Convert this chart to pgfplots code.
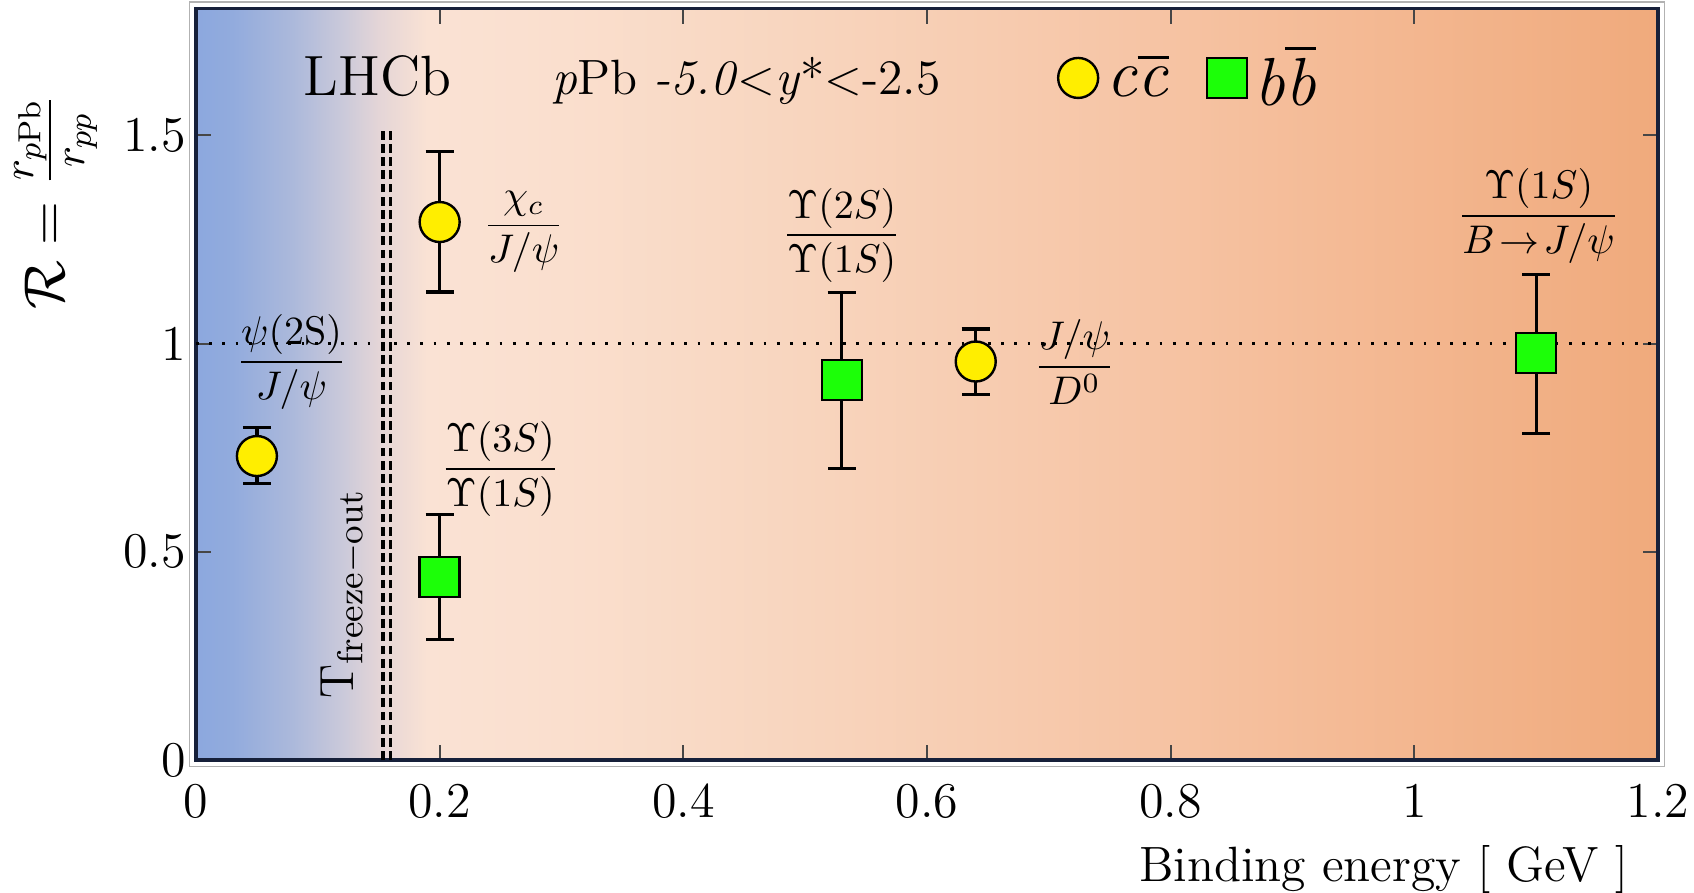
\documentclass[border=0pt]{standalone}
\usepackage{amsmath}
\usepackage{pgfplots}
\pgfplotsset{compat=1.18}

\definecolor{bgA}{RGB}{140,168,222}
\definecolor{bgB}{RGB}{146,171,221}
\definecolor{bgC}{RGB}{172,185,219}
\definecolor{bgD}{RGB}{202,201,218}
\definecolor{bgE}{RGB}{228,213,215}
\definecolor{bgF}{RGB}{250,226,212}
\definecolor{bgG}{RGB}{250,223,206}
\definecolor{bgH}{RGB}{248,213,190}
\definecolor{bgI}{RGB}{246,195,163}
\definecolor{bgJ}{RGB}{240,170,124}
\definecolor{cyel}{RGB}{255,238,0}
\definecolor{cgrn}{RGB}{28,255,8}
\definecolor{frame}{RGB}{22,32,58}

\pgfdeclarehorizontalshading{bgshade}{100bp}{color(0bp)=(bgA); color(25bp)=(bgA); color(26.25bp)=(bgB); color(28.33bp)=(bgC); color(30bp)=(bgD); color(31.25bp)=(bgE); color(32.9bp)=(bgF); color(37.5bp)=(bgG); color(45.8bp)=(bgH); color(58.3bp)=(bgI); color(75bp)=(bgJ); color(100bp)=(bgJ)}

\pgfplotsset{mymarkleg/.style={legend image code/.code={\draw[mark repeat=2,mark phase=2,##1] plot coordinates {(0cm,0cm)(0.19cm,0cm)(0.38cm,0cm)};}}}

\pgfplotstableread{
x     y     ep    em
0.05  0.730 0.068 0.065
0.20  1.292 0.170 0.168
0.64  0.957 0.078 0.080
}\ccbar

\pgfplotstableread{
x     y     ep    em
0.20  0.440 0.150 0.150
0.53  0.912 0.210 0.212
1.10  0.977 0.189 0.192
}\bbbar

\begin{document}
\begin{tikzpicture}
\begin{axis}[
  name=ax,
  scale only axis,
  width=365.5pt, height=187.9pt,
  xmin=0, xmax=1.2, ymin=0, ymax=1.805,
  xtick={0,0.2,0.4,0.6,0.8,1,1.2},
  xticklabels={0,0.2,0.4,0.6,0.8,1,1.2},
  ytick={0,0.5,1,1.5},
  yticklabels={0,0.5,1,1.5},
  tick align=inside,
  major tick length=3.8pt,
  tick style={gray!55!black, line width=0.5pt},
  axis line style={line width=0.9pt, frame},
  axis background/.style={shading=bgshade},
  ticklabel style={font=\fontsize{12.5}{14}\selectfont},
  xticklabel style={yshift=-2.5pt},
  yticklabel style={xshift=1pt},
  xlabel={Binding energy $[$ GeV $]$},
  xlabel style={font=\fontsize{12.4}{14}\selectfont, at={(axis description cs:1,0)}, anchor=base east, yshift=-30.3pt, xshift=-4pt},
  ylabel={$\mathcal{R} = \frac{r_{p\mathrm{Pb}}}{r_{pp}}$},
  ylabel style={font=\fontsize{15.5}{18}\selectfont, at={(axis description cs:-0.096,0.742)}, anchor=center},
  clip=false,
  legend style={at={(axis cs:0.707,1.638)}, anchor=west, draw=none, fill=none,
    legend columns=2, inner xsep=0pt, font=\fontsize{17}{19}\selectfont,
    /tikz/every even column/.append style={column sep=7.5pt}},
  legend cell align=left,
]
% reference lines
\addplot[black, line width=0.6pt, dash pattern=on 0.7pt off 2.6pt, forget plot] coordinates {(0,1) (1.2,1)};
\addplot[black, line width=0.9pt, dash pattern=on 2.2pt off 1.1pt, forget plot] coordinates {(0.1535,0) (0.1535,1.51)};
\addplot[black, line width=0.9pt, dash pattern=on 2.2pt off 1.1pt, forget plot] coordinates {(0.1595,0) (0.1595,1.51)};

% data
\addplot[only marks, mark=*, mark size=5pt, mark options={fill=cyel, draw=black, line width=0.6pt}, forget plot,
  error bars/.cd, y dir=both, y explicit,
  error bar style={line width=0.8pt, black},
  error mark options={line width=0.8pt, mark size=3.5pt, black, rotate=90}]
  table[x=x, y=y, y error plus=ep, y error minus=em] {\ccbar};
\addplot[only marks, mark=square*, mark size=5pt, mark options={fill=cgrn, draw=black, line width=0.6pt}, forget plot,
  error bars/.cd, y dir=both, y explicit,
  error bar style={line width=0.8pt, black},
  error mark options={line width=0.8pt, mark size=3.5pt, black, rotate=90}]
  table[x=x, y=y, y error plus=ep, y error minus=em] {\bbbar};

% legend
\addlegendimage{only marks, mymarkleg, mark=*, mark size=5pt, mark options={fill=cyel, draw=black, line width=0.6pt}}
\addlegendentry{\textit{c}$\overline{\mbox{\textit{c}}}$}
\addlegendimage{only marks, mymarkleg, mark=square*, mark size=5pt, mark options={fill=cgrn, draw=black, line width=0.6pt}}
\addlegendentry{\textit{b}$\overline{\mbox{\textit{b}}}$}

% texts
\node[font=\fontsize{14.2}{16}\selectfont] at (axis cs:0.149,1.643) {LHCb};
\node[font=\fontsize{12.4}{14}\selectfont] at (axis cs:0.452,1.63) {\textit{p}Pb \textit{-5.0}<\textit{y}*<-2.5};
\node[font=\fontsize{10}{12}\selectfont] at (axis cs:0.0785,0.956) {$\dfrac{\psi(2\mathrm{S})}{J/\psi}$};
\node[font=\fontsize{10}{12}\selectfont] at (axis cs:0.269,1.268) {$\dfrac{\chi_c}{J/\psi}$};
\node[font=\fontsize{10}{12}\selectfont] at (axis cs:0.2497,0.699) {$\dfrac{\Upsilon(3S)}{\Upsilon(1S)}$};
\node[font=\fontsize{10}{12}\selectfont] at (axis cs:0.53,1.26) {$\dfrac{\Upsilon(2S)}{\Upsilon(1S)}$};
\node[font=\fontsize{10}{12}\selectfont] at (axis cs:0.721,0.956) {$\dfrac{J/\psi}{D^0}$};
\node[font=\fontsize{10}{12}\selectfont] at (axis cs:1.102,1.306) {$\dfrac{\Upsilon(1S)}{B\!\rightarrow\! J/\psi}$};
\node[font=\fontsize{13}{15}\selectfont, rotate=90] at (axis cs:0.121,0.40) {$\mathrm{T}_{\mathrm{freeze-out}}$};

% outer thin frame line
\draw[gray!60, line width=0.4pt] ([xshift=-1.6pt,yshift=-1.6pt]rel axis cs:0,0) rectangle ([xshift=1.6pt,yshift=1.6pt]rel axis cs:1,1);
\end{axis}
\pgfresetboundingbox
\path ([xshift=-49pt,yshift=-33pt]ax.south west) rectangle ([xshift=9pt,yshift=2.1pt]ax.north east);
\end{tikzpicture}
\end{document}
